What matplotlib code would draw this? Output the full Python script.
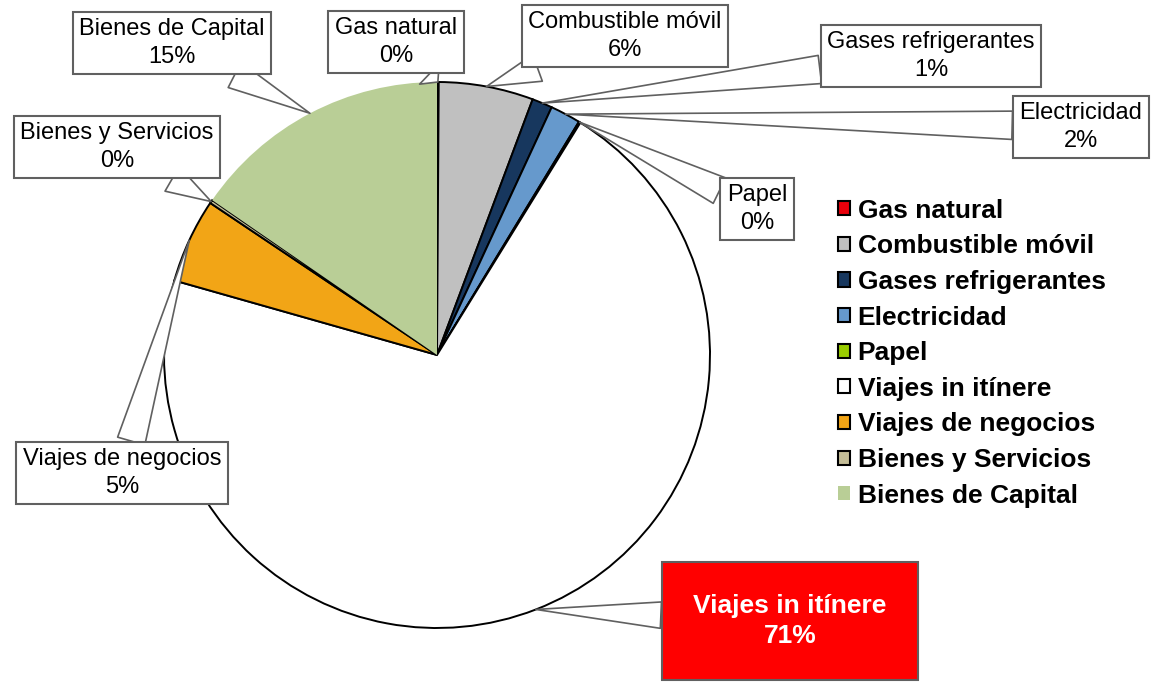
import matplotlib
matplotlib.use("Agg")
import numpy as np
import matplotlib.pyplot as plt
from matplotlib.patches import Patch

plt.rcParams['font.family'] = ['Liberation Sans', 'DejaVu Sans']

# data (percent), clockwise from the top
categories = ['Gas natural', 'Combustible móvil', 'Gases refrigerantes',
              'Electricidad', 'Papel', 'Viajes in itínere',
              'Viajes de negocios', 'Bienes y Servicios', 'Bienes de Capital']
values = [0.1, 5.6, 1.2, 1.8, 0.1, 70.6, 5.0, 0.2, 15.4]
colors = ['#E8000B', '#C0C0C0', '#17375E', '#6699CC', '#99CC00',
          '#FFFFFF', '#F2A516', '#C4BD97', '#B9CE96']

# label box centres, in pixels from the top left
label_pos = {
    'Gas natural': (396, 42),
    'Combustible móvil': (625, 36),
    'Gases refrigerantes': (931, 56),
    'Electricidad': (1081, 127),
    'Papel': (757, 209),
    'Viajes in itínere': (790, 621),
    'Viajes de negocios': (122, 473),
    'Bienes y Servicios': (117, 147),
    'Bienes de Capital': (172, 43),
}

W, H = 1151, 682
fig = plt.figure(figsize=(W / 100, H / 100), dpi=100)
ax = fig.add_axes([0, 0, 1, 1])

cx, cy, r = 437, H - 355, 273
wedges, _ = ax.pie(values, colors=colors, startangle=90, counterclock=False,
                   center=(cx, cy), radius=r, frame=True,
                   wedgeprops=dict(edgecolor='black', linewidth=1.4))
wedges[-1].set_edgecolor('none')
ax.set_xlim(0, W)
ax.set_ylim(0, H)
ax.set_aspect('equal')
ax.axis('off')

for w, name, v in zip(wedges, categories, values):
    mid = np.deg2rad((w.theta1 + w.theta2) / 2)
    tip = (cx + r * np.cos(mid), cy + r * np.sin(mid))
    px, py = label_pos[name]
    txt = '%s\n%d%%' % (name, round(v))
    if name == 'Viajes in itínere':
        ax.annotate(txt, xy=tip, xytext=(px, H - py), ha='center', va='center',
                    fontsize=19, fontweight='bold', color='white',
                    linespacing=1.3,
                    bbox=dict(boxstyle='square,pad=1.2', fc='#FF0000',
                              ec='#606060', lw=1.5),
                    arrowprops=dict(arrowstyle='wedge,tail_width=1.0',
                                    fc='white', ec='#606060', lw=1.2,
                                    shrinkA=0, shrinkB=0))
    else:
        ax.annotate(txt, xy=tip, xytext=(px, H - py), ha='center', va='center',
                    fontsize=17, color='black', linespacing=1.3,
                    bbox=dict(boxstyle='square,pad=0.28', fc='white',
                              ec='#606060', lw=1.5),
                    arrowprops=dict(arrowstyle='wedge,tail_width=1.2',
                                    fc='white', ec='#606060', lw=1.2,
                                    shrinkA=0, shrinkB=0))

handles = []
for name, c in zip(categories, colors):
    ec = 'none' if name == 'Bienes de Capital' else 'black'
    handles.append(Patch(facecolor=c, edgecolor=ec, linewidth=1.5, label=name))
leg = fig.legend(handles=handles, loc='upper left',
                 bbox_to_anchor=(814 / W, 1 - 175 / H),
                 frameon=False, handlelength=0.45, handleheight=0.45,
                 handletextpad=0.3, labelspacing=0.44,
                 prop=dict(size=19, weight='bold'))

fig.savefig('out.png', dpi=100)
